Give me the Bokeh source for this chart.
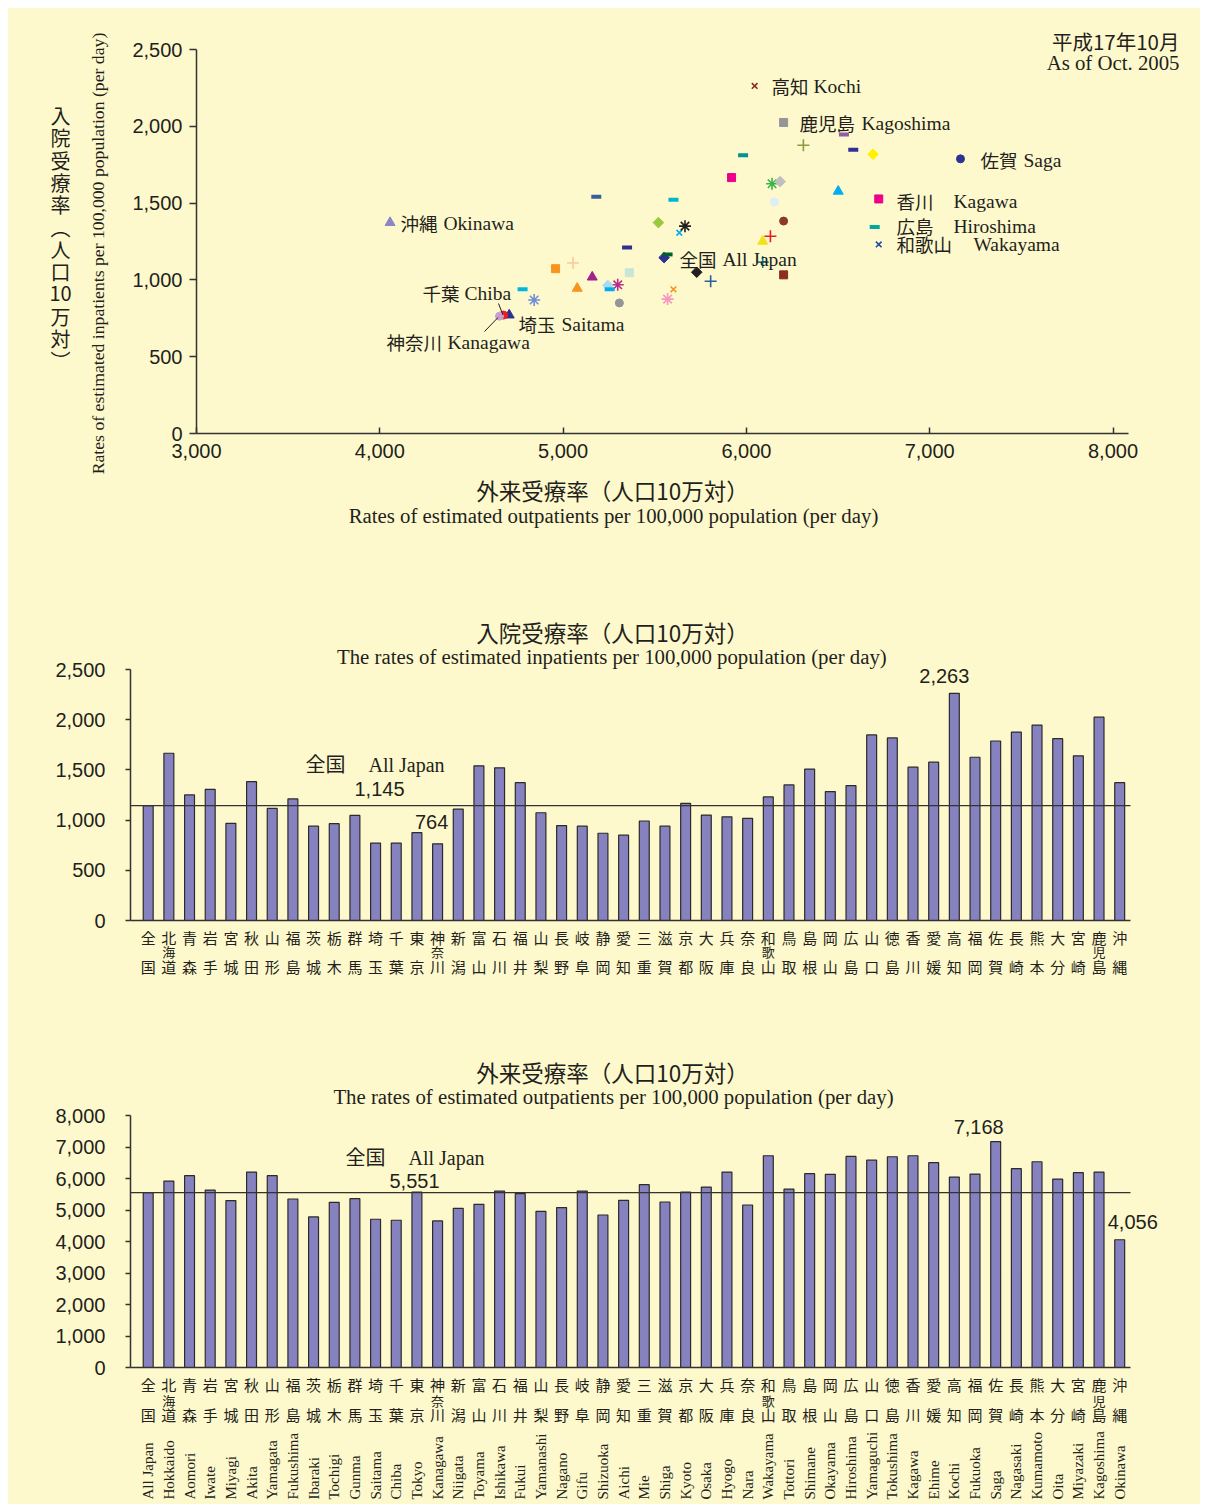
import math
from bokeh.plotting import figure
from bokeh.models import (ColumnDataSource, Label, LabelSet, Range1d, FixedTicker,
                          NumeralTickFormatter)
from bokeh.layouts import column
from bokeh.embed import file_html
from bokeh.resources import INLINE
from bokeh.core.properties import value

# ---------------- data ----------------
PREF_JA = ["全国", "北海道", "青森", "岩手", "宮城", "秋田", "山形", "福島", "茨城", "栃木",
           "群馬", "埼玉", "千葉", "東京", "神奈川", "新潟", "富山", "石川", "福井", "山梨",
           "長野", "岐阜", "静岡", "愛知", "三重", "滋賀", "京都", "大阪", "兵庫", "奈良",
           "和歌山", "鳥取", "島根", "岡山", "広島", "山口", "徳島", "香川", "愛媛", "高知",
           "福岡", "佐賀", "長崎", "熊本", "大分", "宮崎", "鹿児島", "沖縄"]
PREF_EN = ["All Japan", "Hokkaido", "Aomori", "Iwate", "Miyagi", "Akita", "Yamagata", "Fukushima",
           "Ibaraki", "Tochigi", "Gunma", "Saitama", "Chiba", "Tokyo", "Kanagawa", "Niigata",
           "Toyama", "Ishikawa", "Fukui", "Yamanashi", "Nagano", "Gifu", "Shizuoka", "Aichi",
           "Mie", "Shiga", "Kyoto", "Osaka", "Hyogo", "Nara", "Wakayama", "Tottori", "Shimane",
           "Okayama", "Hiroshima", "Yamaguchi", "Tokushima", "Kagawa", "Ehime", "Kochi",
           "Fukuoka", "Saga", "Nagasaki", "Kumamoto", "Oita", "Miyazaki", "Kagoshima", "Okinawa"]
INPATIENT = [1145, 1666, 1251, 1307, 968, 1383, 1116, 1211, 939, 964,
             1047, 771, 771, 875, 764, 1110, 1541, 1521, 1373, 1073,
             945, 939, 869, 850, 991, 939, 1166, 1050, 1033, 1018,
             1231, 1350, 1508, 1284, 1344, 1848, 1818, 1527, 1577, 2263,
             1626, 1788, 1877, 1946, 1811, 1640, 2025, 1373]
OUTPATIENT = [5551, 5919, 6089, 5634, 5298, 6203, 6089, 5349, 4779, 5244,
              5361, 4706, 4675, 5570, 4653, 5054, 5181, 5602, 5520, 4959,
              5077, 5602, 4842, 5307, 5805, 5254, 5570, 5729, 6203, 5159,
              6722, 5665, 6153, 6131, 6700, 6583, 6691, 6722, 6501, 6045,
              6140, 7168, 6311, 6532, 5982, 6184, 6203, 4056]
SCATTER_MARKERS = ["diamond", "square", "triangle", "x", "asterisk", "circle", "cross", "dash",
                   "dash", "diamond", "square", "triangle", "circle", "asterisk", "circle", "cross",
                   "dash", "dash", "diamond", "square", "triangle", "x", "asterisk", "circle",
                   "cross", "dash", "dash", "diamond", "square", "triangle", "x", "asterisk",
                   "circle", "cross", "dash", "dash", "diamond", "square", "triangle", "x",
                   "asterisk", "circle", "cross", "dash", "dash", "diamond", "square", "triangle"]
SCATTER_COLORS = ["#2E3192", "#EC008C", "#F2E21B", "#00AEEF", "#B72E8E", "#8B3A2A", "#17858C", "#2E3192",
                  "#00B6E0", "#A9DCF3", "#C6E6D8", "#2E3192", "#EE1C25", "#F49AC1", "#C9A0CC", "#FCC89B",
                  "#36609A", "#00B5D1", "#9CC83D", "#F7941D", "#F7941D", "#F7941D", "#6F8FD2", "#939598",
                  "#2D5E95", "#00AEEF", "#005E2E", "#231F20", "#8B2F1E", "#A3238E", "#1D4E9E", "#231F20",
                  "#DCEEF9", "#ED1C24", "#00A99D", "#2E3192", "#FFF200", "#EC008C", "#00AEEF", "#8B2D23",
                  "#39B54A", "#2E3192", "#8D9A3E", "#8F5CA8", "#00958F", "#BDBFC1", "#939598", "#8C86C4"]
SCATTER_X_TICKS = [3000, 4000, 5000, 6000, 7000, 8000]
SCATTER_Y_TICKS = [0, 500, 1000, 1500, 2000, 2500]
Y_TITLE_CHARS = ["入", "院", "受", "療", "率", "︵", "人", "口", "10", "万", "対", "︶"]

# ---------------- style ----------------
BG = "#FEF9CC"
BAR_FILL = "#8682BF"
AXIS_COL = "#333333"
TEXT_COL = "#231F20"
JA = "Noto Sans CJK JP"
SERIF = "Liberation Serif"
SANS = "Liberation Sans"
W = 1192
PAGE_L, PAGE_R = 8, 8 + W

MARKER_STYLE = {  # bokeh marker, size, line width, angle
    "diamond": ("square", 7.5, 1, math.pi / 4),
    "square": ("square", 8, 1, 0),
    "triangle": ("triangle", 10, 1, 0),
    "circle": ("circle", 8, 1, 0),
    "x": ("x", 8, 1.6, 0),
    "asterisk": ("asterisk", 12, 1.6, 0),
    "cross": ("cross", 12, 1.6, 0),
    "dash": ("dash", 10, 4, 0),
}


def lin_range(v0, p0, v1, p1, lo, hi):
    """range ends so that value v0 sits at page px p0 and v1 at p1, frame spanning lo..hi"""
    s = (v1 - v0) / (p1 - p0)
    a, b = v0 + (lo - p0) * s, v0 + (hi - p0) * s
    return (min(a, b), max(a, b))


def base_fig(h, xr, yr):
    p = figure(width=W, height=h, x_range=Range1d(*xr), y_range=Range1d(*yr),
               min_border=0, toolbar_location=None, output_backend="svg",
               title=None, tools="")
    p.background_fill_color = BG
    p.border_fill_color = BG
    p.outline_line_color = None
    p.xgrid.visible = False
    p.ygrid.visible = False
    for ax in p.axis:
        ax.axis_line_color = AXIS_COL
        ax.axis_line_width = 1.5
        ax.major_tick_line_color = AXIS_COL
        ax.major_tick_line_width = 1.5
        ax.minor_tick_line_color = None
        ax.major_label_text_font = SANS
        ax.major_label_text_font_size = "20px"
        ax.major_label_text_color = TEXT_COL
    return p


def mapper(top, h, xr, yr):
    def fx(px):
        return xr[0] + (px - PAGE_L) * (xr[1] - xr[0]) / W

    def fy(py):
        return yr[1] - (py - top) * (yr[1] - yr[0]) / h
    return fx, fy


def add_text(p, x, y, text, font, size, align="left", baseline="middle", angle=0):
    p.add_layout(Label(x=x, y=y, text=text, text_font=font, text_font_size=f"{size}px",
                       text_align=align, text_baseline=baseline, angle=angle,
                       text_color=TEXT_COL))


# ================= scatter =================
T1, H1 = 8, 564
SX = lin_range(3000, 196, 8000, 1112.5, PAGE_L, PAGE_R)
SY = lin_range(0, 433, 2500, 49, T1, T1 + H1)
p1 = base_fig(H1, SX, SY)
fx1, fy1 = mapper(T1, H1, SX, SY)

p1.xaxis.ticker = FixedTicker(ticks=SCATTER_X_TICKS)
p1.yaxis.ticker = FixedTicker(ticks=SCATTER_Y_TICKS)
for ax in p1.axis:
    ax.formatter = NumeralTickFormatter(format="0,0")
p1.xaxis.fixed_location = 0
p1.xaxis.bounds = (SCATTER_X_TICKS[0], fx1(1128))
p1.yaxis.fixed_location = SCATTER_X_TICKS[0]
p1.yaxis.bounds = (SCATTER_Y_TICKS[0], SCATTER_Y_TICKS[-1])
p1.xaxis.major_tick_in = 6
p1.xaxis.major_tick_out = 0
p1.xaxis.major_label_standoff = 10
p1.yaxis.major_tick_in = 0
p1.yaxis.major_tick_out = 7
p1.yaxis.major_label_standoff = 7

styles = [MARKER_STYLE[m] for m in SCATTER_MARKERS]
src1 = ColumnDataSource(dict(
    x=OUTPATIENT, y=INPATIENT,
    marker=[s[0] for s in styles], size=[s[1] for s in styles],
    lw=[s[2] for s in styles], angle=[s[3] for s in styles],
    color=SCATTER_COLORS))
p1.scatter("x", "y", marker="marker", size="size", angle="angle", line_width="lw",
           fill_color="color", line_color="color", source=src1)

# leader lines for Chiba and Kanagawa
p1.segment(x0=[fx1(498), fx1(484)], y0=[fy1(303), fy1(331)],
           x1=[fx1(502.5), fx1(497.5)], y1=[fy1(314.5), fy1(317)],
           line_color=TEXT_COL, line_width=1)

scatter_labels = [  # ja text, ja x, en text, en x, y (page px)
    ("高知", 771, "Kochi", 813, 85),
    ("鹿児島", 799, "Kagoshima", 861, 122),
    ("佐賀", 980, "Saga", 1023, 159),
    ("香川", 896, "Kagawa", 953, 200),
    ("広島", 896, "Hiroshima", 953, 225),
    ("和歌山", 896, "Wakayama", 973, 243),
    ("全国", 679, "All Japan", 722, 258),
    ("沖縄", 400, "Okinawa", 443, 222),
    ("千葉", 422, "Chiba", 464, 292),
    ("埼玉", 518, "Saitama", 561, 323),
    ("神奈川", 386, "Kanagawa", 447, 341),
]
for ja, jx, en, ex, yy in scatter_labels:
    add_text(p1, fx1(jx), fy1(yy), ja, JA, 18.5)
    add_text(p1, fx1(ex), fy1(yy + 1), en, SERIF, 19.5)

add_text(p1, fx1(1179), fy1(40), "平成17年10月", JA, 20.5, align="right")
add_text(p1, fx1(1179), fy1(62), "As of Oct. 2005", SERIF, 20.8, align="right")

# axis titles
add_text(p1, fx1(612), fy1(489), "外来受療率（人口10万対）", JA, 22.5, align="center")
add_text(p1, fx1(613), fy1(515), "Rates of estimated outpatients per 100,000 population (per day)",
         SERIF, 20.8, align="center")
add_text(p1, fx1(97), fy1(253), "Rates of estimated inpatients per 100,000 population (per day)",
         SERIF, 17.7, align="center", angle=math.pi / 2)
ytitle_src = ColumnDataSource(dict(
    x=[fx1(60)] * len(Y_TITLE_CHARS),
    y=[fy1(115 + 22.3 * i) for i in range(len(Y_TITLE_CHARS))],
    t=Y_TITLE_CHARS))
p1.add_layout(LabelSet(x="x", y="y", text="t", source=ytitle_src, text_align="center",
                       text_baseline="middle", text_font=value(JA),
                       text_font_size=value("20px"), text_color=TEXT_COL))

# ================= bar charts =================
IDX = list(range(len(PREF_JA)))
BX = lin_range(0, 147.7, 47, 1119.2, PAGE_L, PAGE_R)


def bar_chart(top, h, vmax, vmax_px, zero_px, vals, tick_step, rows, en_labels):
    yr = lin_range(0, zero_px, vmax, vmax_px, top, top + h)
    p = base_fig(h, BX, yr)
    fx, fy = mapper(top, h, BX, yr)
    x_lo, x_hi = fx(130), fx(1130)
    p.yaxis.ticker = FixedTicker(ticks=list(range(0, vmax + 1, tick_step)))
    p.yaxis.formatter = NumeralTickFormatter(format="0,0")
    p.yaxis.fixed_location = x_lo
    p.yaxis.bounds = (0, vmax)
    p.yaxis.major_tick_in = 0
    p.yaxis.major_tick_out = 5
    p.yaxis.major_label_standoff = 20
    p.xaxis.ticker = FixedTicker(ticks=[])
    p.xaxis.fixed_location = 0
    p.xaxis.bounds = (x_lo, x_hi)
    p.xaxis.major_tick_in = 0
    p.xaxis.major_tick_out = 0

    p.vbar(x=IDX, top=vals, width=0.48, fill_color=BAR_FILL, line_color="#2B2B2B",
           line_width=1.2)
    # All Japan reference line
    p.segment(x0=[x_lo], y0=[vals[0]], x1=[x_hi], y1=[vals[0]], line_color=AXIS_COL,
              line_width=1.2)

    # Japanese category labels (vertical)
    top_src = ColumnDataSource(dict(x=IDX, y=[fy(rows[0])] * len(IDX),
                                    t=[n[0] for n in PREF_JA]))
    bot_src = ColumnDataSource(dict(x=IDX, y=[fy(rows[2])] * len(IDX),
                                    t=[n[-1] for n in PREF_JA]))
    mid = [(i, n[1]) for i, n in enumerate(PREF_JA) if len(n) == 3]
    mid_src = ColumnDataSource(dict(x=[m[0] for m in mid], y=[fy(rows[1])] * len(mid),
                                    t=[m[1] for m in mid]))
    for s, fs in ((top_src, "15px"), (bot_src, "15px"), (mid_src, "13px")):
        p.add_layout(LabelSet(x="x", y="y", text="t", source=s, text_align="center",
                              text_baseline="middle", text_font=value(JA),
                              text_font_size=value(fs), text_color=TEXT_COL))
    if en_labels:
        en_src = ColumnDataSource(dict(x=IDX, y=[fy(1499)] * len(IDX), t=PREF_EN))
        p.add_layout(LabelSet(x="x", y="y", text="t", source=en_src, text_align="left",
                              text_baseline="middle", angle=math.pi / 2,
                              text_font=value(SERIF), text_font_size=value("15px"),
                              text_color=TEXT_COL))
    return p, fx, fy, yr


u_px = (BX[1] - BX[0]) / W  # x units per pixel

# inpatient
T2, H2 = 572, 450
p2, fx2, fy2, Y2 = bar_chart(T2, H2, 2500, 669, 920, INPATIENT, 500, (937, 951, 966), False)
v2 = (Y2[1] - Y2[0]) / H2
add_text(p2, fx2(612), fy2(631), "入院受療率（人口10万対）", JA, 22.5, align="center")
add_text(p2, fx2(614), fy2(656), "The rates of estimated  inpatients per 100,000 population (per day)",
         SERIF, 20.8, align="center")
add_text(p2, fx2(305), fy2(763), "全国", JA, 20)
add_text(p2, fx2(368), fy2(764), "All Japan", SERIF, 20)
add_text(p2, fx2(379), fy2(788), f"{INPATIENT[0]:,}", SANS, 20, align="center")
kmin = INPATIENT.index(min(INPATIENT))
kmax = INPATIENT.index(max(INPATIENT))
add_text(p2, kmin - 6 * u_px, INPATIENT[kmin] + 22 * v2, f"{INPATIENT[kmin]:,}", SANS, 20,
         align="center")
add_text(p2, kmax - 10 * u_px, INPATIENT[kmax] + 17 * v2, f"{INPATIENT[kmax]:,}", SANS, 20,
         align="center")

# outpatient
T3, H3 = 1022, 482
p3, fx3, fy3, Y3 = bar_chart(T3, H3, 8000, 1115, 1367, OUTPATIENT, 1000, (1384, 1400, 1414), True)
v3 = (Y3[1] - Y3[0]) / H3
add_text(p3, fx3(612), fy3(1071), "外来受療率（人口10万対）", JA, 22.5, align="center")
add_text(p3, fx3(613), fy3(1096), "The rates of estimated outpatients per 100,000 population (per day)",
         SERIF, 20.8, align="center")
add_text(p3, fx3(345), fy3(1156), "全国", JA, 20)
add_text(p3, fx3(408), fy3(1157), "All Japan", SERIF, 20)
add_text(p3, fx3(414), fy3(1180), f"{OUTPATIENT[0]:,}", SANS, 20, align="center")
jmin = OUTPATIENT.index(min(OUTPATIENT))
jmax = OUTPATIENT.index(max(OUTPATIENT))
add_text(p3, jmax - 17 * u_px, OUTPATIENT[jmax] + 15 * v3, f"{OUTPATIENT[jmax]:,}", SANS, 20,
         align="center")
add_text(p3, jmin - 12 * u_px, OUTPATIENT[jmin] + 18 * v3, f"{OUTPATIENT[jmin]:,}", SANS, 20,
         align="left")

layout = column(p1, p2, p3, spacing=0, margin=(8, 8, 0, 8),
                styles={"background-color": BG})
open("out.html", "w").write(file_html(layout, INLINE))
